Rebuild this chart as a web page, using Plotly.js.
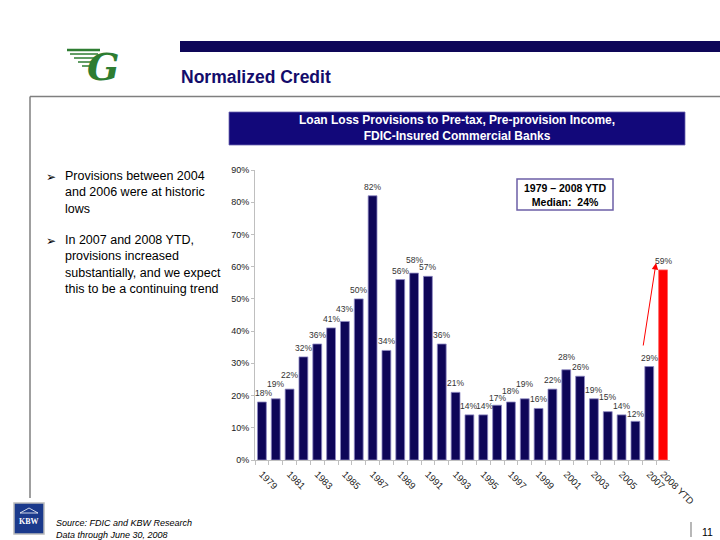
<!DOCTYPE html>
<html>
<head>
<meta charset="utf-8">
<script src="https://cdn.plot.ly/plotly-3.0.1.min.js"></script>
<style>
html,body{margin:0;padding:0;background:#fff;}
#chart{width:720px;height:540px;}
</style>
</head>
<body>
<div id="chart"></div>
<script>
// ---- data ----
const years = ['1979','1980','1981','1982','1983','1984','1985','1986','1987','1988','1989','1990','1991','1992','1993','1994','1995','1996','1997','1998','1999','2000','2001','2002','2003','2004','2005','2006','2007','2008 YTD'];
const provisionPct = [18,19,22,32,36,41,43,50,82,34,56,58,57,36,21,14,14,17,18,19,16,22,28,26,19,15,14,12,29,59];
const shownTickLabels = ['1979','1981','1983','1985','1987','1989','1991','1993','1995','1997','1999','2001','2003','2005','2007','2008 YTD'];
const yTicks = [0,10,20,30,40,50,60,70,80,90];

// ---- styling (label nudges, in pixels, to mimic the staggered labels) ----
const labelLift = {'1980':6,'1981':5,'1985':3,'1990':4,'1996':-2,'1997':2,'1998':6,'2001':4,'2004':6,'2006':-2};
const labelSlide = {'1979':2,'1994':-1,'1995':1};

const NAVY = '#0E0658';
const FONT = 'Liberation Sans, Arial, sans-serif';
const W = 720, H = 540;
const px = x => x / W;
const py = y => 1 - y / H;

const barColors = years.map(y => y === '2008 YTD' ? '#FF0000' : NAVY);
const barLines = years.map(y => y === '2008 YTD' ? '#FF6060' : '#8F8AC4');

const trace = {
  type: 'bar',
  x: years,
  y: provisionPct,
  marker: {color: barColors, line: {color: barLines, width: 0.8}},
  hoverinfo: 'skip'
};

// on a category axis an annotation's x is the category's index
const valueLabels = years.map((yr, i) => ({
  x: i, y: provisionPct[i], xref: 'x', yref: 'y',
  text: provisionPct[i] + '%', showarrow: false,
  yanchor: 'bottom', xanchor: 'center',
  yshift: 2 + (labelLift[yr] || 0), xshift: (labelSlide[yr] || 0),
  font: {family: FONT, size: 8.5, color: '#333'}
}));

const shapes = [
  {type:'rect', xref:'paper', yref:'paper', x0:px(180), x1:px(720), y0:py(52), y1:py(41), fillcolor:NAVY, line:{width:0}},
  {type:'line', xref:'paper', yref:'paper', x0:px(30), x1:px(720), y0:py(96.5), y1:py(96.5), line:{color:'#7F7F7F', width:1.5}},
  {type:'line', xref:'paper', yref:'paper', x0:px(30), x1:px(30), y0:py(96.5), y1:py(498), line:{color:'#7F7F7F', width:1.5}},
  {type:'rect', xref:'paper', yref:'paper', x0:px(229), x1:px(685), y0:py(145), y1:py(112), fillcolor:'#12087A', line:{color:'#6C64B0', width:0.8}},
  {type:'rect', xref:'paper', yref:'paper', x0:px(517), x1:px(613), y0:py(210), y1:py(179), fillcolor:'#fff', line:{color:'#6C5FA7', width:1.5}},
  {type:'rect', xref:'paper', yref:'paper', x0:px(14), x1:px(44), y0:py(534), y1:py(503), fillcolor:'#1B3A8C', line:{color:'#BBBBBB', width:1.5}},
  {type:'path', xref:'paper', yref:'paper', path:`M ${px(20)} ${py(513)} L ${px(29)} ${py(508)} L ${px(38)} ${py(513)} Z`, fillcolor:'rgba(0,0,0,0)', line:{color:'#fff', width:0.8}},
  {type:'line', xref:'paper', yref:'paper', x0:px(691), x1:px(691), y0:py(522), y1:py(537), line:{color:'#888', width:1.2}},
  // green logo wings
  {type:'line', xref:'paper', yref:'paper', x0:px(67), x1:px(100), y0:py(50), y1:py(50), line:{color:'#2E7D32', width:2.5}},
  {type:'line', xref:'paper', yref:'paper', x0:px(70), x1:px(98), y0:py(54), y1:py(54), line:{color:'#2E7D32', width:1.5}},
  {type:'line', xref:'paper', yref:'paper', x0:px(74), x1:px(96), y0:py(58), y1:py(58), line:{color:'#2E7D32', width:1.5}},
  {type:'line', xref:'paper', yref:'paper', x0:px(78), x1:px(95), y0:py(62), y1:py(62), line:{color:'#2E7D32', width:1.5}},
  {type:'line', xref:'paper', yref:'paper', x0:px(82), x1:px(94), y0:py(66), y1:py(66), line:{color:'#2E7D32', width:1.5}}
];

const annotations = valueLabels.concat([
  {xref:'paper', yref:'paper', x:px(179), y:py(77), xanchor:'left', yanchor:'middle', showarrow:false,
   text:'<b>Normalized Credit</b>', font:{family:FONT, size:17.5, color:'#130C6B'}},
  {xref:'paper', yref:'paper', x:px(457), y:py(128.5), xanchor:'center', yanchor:'middle', showarrow:false,
   text:'<b>Loan Loss Provisions to Pre-tax, Pre-provision Income,<br>FDIC-Insured Commercial Banks</b>',
   font:{family:FONT, size:12, color:'#fff'}},
  {xref:'paper', yref:'paper', x:px(565), y:py(194.5), xanchor:'center', yanchor:'middle', showarrow:false,
   text:'<b>1979 – 2008 YTD<br>Median:  24%</b>', font:{family:FONT, size:10.5, color:'#000'}},
  {xref:'paper', yref:'paper', x:px(44), y:py(168), xanchor:'left', yanchor:'top', showarrow:false,
   text:'➢', font:{family:'DejaVu Sans', size:12, color:'#000'}},
  {xref:'paper', yref:'paper', x:px(63), y:py(167), xanchor:'left', yanchor:'top', showarrow:false, align:'left',
   text:'Provisions between 2004<br>and 2006 were at historic<br>lows', font:{family:FONT, size:12.5, color:'#000'}},
  {xref:'paper', yref:'paper', x:px(44), y:py(232), xanchor:'left', yanchor:'top', showarrow:false,
   text:'➢', font:{family:'DejaVu Sans', size:12, color:'#000'}},
  {xref:'paper', yref:'paper', x:px(63), y:py(231), xanchor:'left', yanchor:'top', showarrow:false, align:'left',
   text:'In 2007 and 2008 YTD,<br>provisions increased<br>substantially, and we expect<br>this to be a continuing trend', font:{family:FONT, size:12.5, color:'#000'}},
  {xref:'paper', yref:'paper', x:px(103), y:py(66), xanchor:'center', yanchor:'middle', showarrow:false,
   text:'<b><i>G</i></b>', font:{family:'DejaVu Serif', size:38, color:'#2E7D32'}},
  {xref:'paper', yref:'paper', x:px(29), y:py(521), xanchor:'center', yanchor:'middle', showarrow:false,
   text:'<b>KBW</b>', font:{family:'Liberation Serif', size:8, color:'#fff'}},
  {xref:'paper', yref:'paper', x:px(54), y:py(516), xanchor:'left', yanchor:'top', showarrow:false, align:'left',
   text:'<i>Source: FDIC and KBW Research<br>Data through June 30, 2008</i>', font:{family:FONT, size:9, color:'#000'}},
  {xref:'paper', yref:'paper', x:px(700), y:py(532), xanchor:'left', yanchor:'middle', showarrow:false,
   text:'11', font:{family:FONT, size:10.5, color:'#000'}},
  {xref:'paper', yref:'paper', x:px(656), y:py(263), ax:-13, ay:84, axref:'pixel', ayref:'pixel',
   showarrow:true, arrowhead:2, arrowsize:1.3, arrowwidth:1, arrowcolor:'#FF0000', text:''}
]);

const layout = {
  width: W, height: H,
  margin: {l:0, r:0, t:0, b:0},
  paper_bgcolor: '#fff', plot_bgcolor: '#fff',
  showlegend: false,
  bargap: 0.36,
  xaxis: {
    type: 'category',
    domain: [px(255), px(670)],
    range: [-0.5, years.length - 0.5],
    showline: true, linecolor: '#BFBFBF', linewidth: 1,
    ticks: 'outside', ticklen: 4, tickcolor: '#BFBFBF', tickson: 'boundaries',
    tickmode: 'array', tickvals: years,
    ticktext: years.map(y => shownTickLabels.includes(y) ? y : ''),
    tickangle: 45, ticklabelstandoff: 4,
    tickfont: {family: FONT, size: 9.5, color: '#222'},
    showgrid: false, zeroline: false, fixedrange: true
  },
  yaxis: {
    domain: [80/540, 370/540],
    range: [0, 90],
    tickmode: 'array', tickvals: yTicks, ticktext: yTicks.map(v => v + '%'),
    showline: true, linecolor: '#BFBFBF', linewidth: 1,
    ticks: 'outside', ticklen: 3, tickcolor: '#BFBFBF',
    tickfont: {family: FONT, size: 9, color: '#222'},
    showgrid: false, zeroline: false, fixedrange: true
  },
  shapes: shapes,
  annotations: annotations
};

Plotly.newPlot('chart', [trace], layout, {displayModeBar: false, staticPlot: true});
</script>
</body>
</html>
